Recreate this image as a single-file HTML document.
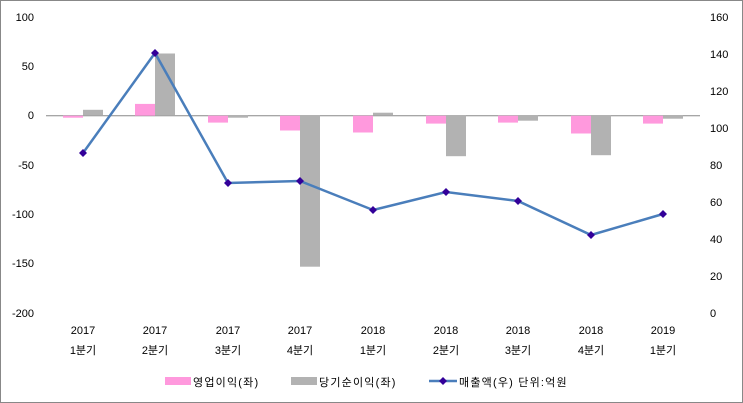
<!DOCTYPE html>
<html><head><meta charset="utf-8"><style>body{margin:0;background:#fff}svg{display:block}text{font-family:"Liberation Sans","Noto Sans CJK KR",sans-serif;font-size:11px;fill:#000}</style></head><body>
<svg width="743" height="403" viewBox="0 0 743 403">
<rect x="0.5" y="0.5" width="742" height="402" fill="#fff" stroke="#888"/>
<g text-anchor="end">
<text x="34" y="21">100</text><text x="34" y="70">50</text><text x="34" y="119">0</text><text x="34" y="169">-50</text><text x="34" y="218">-100</text><text x="34" y="267">-150</text><text x="34" y="317">-200</text>
</g>
<g text-anchor="start">
<text x="710" y="21">160</text><text x="710" y="58">140</text><text x="710" y="95">120</text><text x="710" y="132">100</text><text x="710" y="169">80</text><text x="710" y="206">60</text><text x="710" y="243">40</text><text x="710" y="280">20</text><text x="710" y="317">0</text>
</g>
<line x1="46" y1="115.7" x2="700" y2="115.7" stroke="#888"/>
<g fill="#ff99dd">
<rect x="63" y="115.7" width="20" height="2"/><rect x="135" y="103.9" width="20" height="11.8"/><rect x="208" y="115.7" width="20" height="6.9"/><rect x="280" y="115.7" width="20" height="14.8"/><rect x="353" y="115.7" width="20" height="16.8"/><rect x="426" y="115.7" width="20" height="7.9"/><rect x="498" y="115.7" width="20" height="6.9"/><rect x="571" y="115.7" width="20" height="17.8"/><rect x="643" y="115.7" width="20" height="7.9"/>
</g>
<g fill="#b2b2b2">
<rect x="83" y="109.8" width="20" height="5.9"/><rect x="155" y="53.5" width="20" height="62.2"/><rect x="228" y="115.7" width="20" height="2"/><rect x="300" y="115.7" width="20" height="151"/><rect x="373" y="112.7" width="20" height="3"/><rect x="446" y="115.7" width="20" height="40.5"/><rect x="518" y="115.7" width="20" height="5"/><rect x="591" y="115.7" width="20" height="39.5"/><rect x="663" y="115.7" width="20" height="3"/>
</g>
<polyline points="83,153 155,53 228,183 300,181 373,210 446,192 518,201 591,235 663,214" fill="none" stroke="#4a7ebb" stroke-width="2.5"/>
<g fill="#330099">
<path d="M83,149l4,4l-4,4l-4,-4z"/><path d="M155,49l4,4l-4,4l-4,-4z"/><path d="M228,179l4,4l-4,4l-4,-4z"/><path d="M300,177l4,4l-4,4l-4,-4z"/><path d="M373,206l4,4l-4,4l-4,-4z"/><path d="M446,188l4,4l-4,4l-4,-4z"/><path d="M518,197l4,4l-4,4l-4,-4z"/><path d="M591,231l4,4l-4,4l-4,-4z"/><path d="M663,210l4,4l-4,4l-4,-4z"/>
</g>
<g text-anchor="middle">
<text x="83" y="334">2017</text><text x="155" y="334">2017</text><text x="228" y="334">2017</text><text x="300" y="334">2017</text><text x="373" y="334">2018</text><text x="446" y="334">2018</text><text x="518" y="334">2018</text><text x="591" y="334">2018</text><text x="663" y="334">2019</text>
<text x="83" y="354" font-size="12">1분기</text><text x="155" y="354" font-size="12">2분기</text><text x="228" y="354" font-size="12">3분기</text><text x="300" y="354" font-size="12">4분기</text><text x="373" y="354" font-size="12">1분기</text><text x="446" y="354" font-size="12">2분기</text><text x="518" y="354" font-size="12">3분기</text><text x="591" y="354" font-size="12">4분기</text><text x="663" y="354" font-size="12">1분기</text>
</g>
<rect x="165" y="377" width="26" height="8" fill="#ff99dd"/>
<text x="193" y="386" font-size="12.5" letter-spacing="1.2">영업이익(좌)</text>
<rect x="291" y="377" width="26" height="8" fill="#b2b2b2"/>
<text x="319" y="386" font-size="12.5" letter-spacing="1.2">당기순이익(좌)</text>
<line x1="429" y1="381" x2="457" y2="381" stroke="#4a7ebb" stroke-width="2.5"/>
<path d="M443,377l4,4l-4,4l-4,-4z" fill="#330099"/>
<text x="459" y="386" font-size="12.5" letter-spacing="1.2">매출액(우)  단위:억원</text>
</svg>
</body></html>
